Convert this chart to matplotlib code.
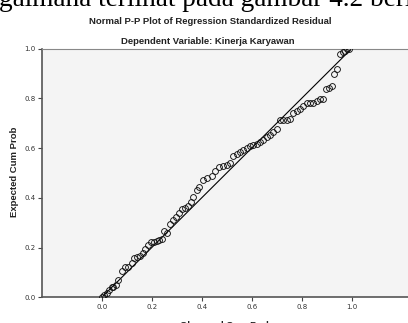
import numpy as np
import matplotlib
matplotlib.use("Agg")
import matplotlib.pyplot as plt

# observed cum prob (x) vs expected cum prob (y)
obs = [0.0, 0.01, 0.02, 0.03, 0.04, 0.046, 0.056, 0.066, 0.08, 0.093, 0.106,
       0.12, 0.13, 0.142, 0.153, 0.164, 0.173, 0.186, 0.197, 0.209, 0.22,
       0.23, 0.24, 0.25, 0.26, 0.273, 0.286, 0.297, 0.309, 0.32, 0.333,
       0.344, 0.356, 0.366, 0.38, 0.39, 0.406, 0.42, 0.44, 0.453, 0.47,
       0.486, 0.5, 0.513, 0.526, 0.54, 0.553, 0.566, 0.58, 0.593, 0.606,
       0.62, 0.633, 0.646, 0.66, 0.673, 0.686, 0.702, 0.713, 0.726, 0.74,
       0.753, 0.766, 0.78, 0.793, 0.806, 0.82, 0.833, 0.846, 0.86, 0.873,
       0.886, 0.897, 0.91, 0.92, 0.929, 0.94, 0.953, 0.964, 0.973, 0.982, 0.99]
exp = [0.0, 0.009, 0.019, 0.03, 0.04, 0.043, 0.048, 0.07, 0.107, 0.121, 0.121,
       0.137, 0.157, 0.161, 0.167, 0.18, 0.194, 0.211, 0.222, 0.224, 0.227,
       0.231, 0.235, 0.265, 0.26, 0.296, 0.309, 0.323, 0.339, 0.355, 0.359,
       0.368, 0.385, 0.403, 0.433, 0.443, 0.473, 0.48, 0.486, 0.506, 0.524,
       0.529, 0.533, 0.54, 0.567, 0.574, 0.583, 0.594, 0.601, 0.61, 0.614,
       0.618, 0.623, 0.634, 0.645, 0.654, 0.664, 0.677, 0.712, 0.712, 0.711,
       0.718, 0.739, 0.748, 0.758, 0.769, 0.779, 0.782, 0.782, 0.789, 0.798,
       0.798, 0.836, 0.843, 0.849, 0.896, 0.919, 0.977, 0.984, 0.99, 1.0, 1.0]

ticks = [0.0, 0.2, 0.4, 0.6, 0.8, 1.0]
tick_labels = ["0.0", "0.2", "0.4", "0.6", "0.8", "1.0"]

W, H = 408, 323
fig = plt.figure(figsize=(W / 100, H / 100), dpi=100)
fig.patch.set_facecolor("white")

# cropped body text from the page above the chart
fig.text(-1 / W, 1 - 6 / H, "gaimana terlihat pada gambar 4.2 beri",
         family="Liberation Serif", fontsize=19.6, va="baseline", ha="left")

fig.text(210 / W, 1 - 21 / H, "Normal P-P Plot of Regression Standardized Residual",
         family="Liberation Sans", fontweight="bold", fontsize=6.8,
         ha="center", va="center", color="#222222")
fig.text(208 / W, 1 - 42 / H, "Dependent Variable: Kinerja Karyawan",
         family="Liberation Sans", fontweight="bold", fontsize=6.8,
         ha="center", va="center", color="#222222")

ax = fig.add_axes([42 / W, 1 - 297.3 / H, 370 / W, (297.3 - 48.5) / H])
ax.set_facecolor("#f4f4f4")
ax.set_xlim(-0.239, 1.241)
ax.set_ylim(0, 1)

ax.plot([0, 1], [0, 1], color="black", lw=0.8, zorder=2)
ax.plot(obs, exp, "o", ms=4.2, mfc="none", mec="#111111", mew=0.65, zorder=3)

ax.set_xticks(ticks)
ax.set_xticklabels(tick_labels)
ax.set_yticks(ticks)
ax.set_yticklabels(tick_labels)
ax.tick_params(direction="out", length=3, width=0.8, color="#444444",
               labelsize=5, labelcolor="#333333", pad=1.5)
for s in ["left", "bottom"]:
    ax.spines[s].set_color("#555555")
    ax.spines[s].set_linewidth(1.2)
ax.spines["top"].set_color("#888888")
ax.spines["top"].set_linewidth(0.8)
ax.spines["right"].set_visible(False)

fig.text(15 / W, 1 - 172 / H, "Expected Cum Prob", rotation=90,
         family="Liberation Sans", fontweight="bold", fontsize=6.8,
         ha="center", va="center", color="#222222")
fig.text(226 / W, 1 - 325 / H, "Observed Cum Prob",
         family="Liberation Sans", fontweight="bold", fontsize=6.8,
         ha="center", va="center", color="#222222")

fig.savefig("out.png", dpi=100)
